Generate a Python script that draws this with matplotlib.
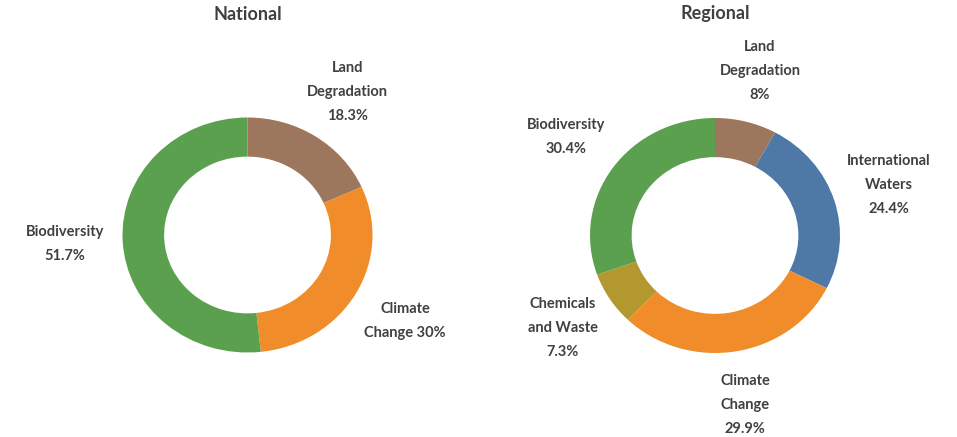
import matplotlib
matplotlib.use("Agg")
import matplotlib.pyplot as plt

# Datos
nat_labels = ["Land\nDegradation", "Climate\nChange", "Biodiversity"]
nat_values = [18.3, 30.0, 51.7]
nat_colors = ["#9C775E", "#F08C2A", "#5BA04F"]

reg_labels = ["Land\nDegradation", "International\nWaters", "Climate\nChange",
              "Chemicals\nand Waste", "Biodiversity"]
reg_values = [8.0, 24.4, 29.9, 7.3, 30.4]
reg_colors = ["#9C775E", "#4E79A7", "#F08C2A", "#B3972F", "#5BA04F"]

# textos de las etiquetas tal como aparecen
nat_text = ["Land\nDegradation\n18.3%", "Climate\nChange 30%", "Biodiversity\n51.7%"]
reg_text = ["Land\nDegradation\n8%", "International\nWaters\n24.4%",
            "Climate\nChange\n29.9%", "Chemicals\nand Waste\n7.3%",
            "Biodiversity\n30.4%"]

# posiciones de las etiquetas (unidades del radio)
nat_pos = [(0.80, 1.22), (1.26, -0.73), (-1.46, -0.08)]
reg_pos = [(0.36, 1.40), (1.39, 0.43), (0.24, -1.44), (-1.22, -0.79), (-1.19, 0.84)]

plt.rcParams["font.family"] = ["Lato", "DejaVu Sans"]
txt_color = "#404040"

W, H = 957, 437
fig = plt.figure(figsize=(W / 100, H / 100), dpi=100)

rx, ry = 125.0, 117.5  # radio en pixeles (horizontal, vertical)
lim = 2.0


def donut(cx, cy, values, colors, texts, pos, title):
    w = 2 * lim * rx / W
    h = 2 * lim * ry / H
    ax = fig.add_axes([cx / W - w / 2, (H - cy) / H - h / 2, w, h])
    ax.pie(values, colors=colors, startangle=90, counterclock=False,
           radius=1.0, wedgeprops=dict(width=0.333, edgecolor="none"))
    ax.set_aspect("auto")
    ax.set_xlim(-lim, lim)
    ax.set_ylim(-lim, lim)
    ax.axis("off")
    for t, (x, y) in zip(texts, pos):
        ax.text(x, y, t, ha="center", va="center", fontsize=10.5,
                color=txt_color, fontweight="bold", linespacing=1.9)
    fig.text(cx / W, 1 - 14 / H, title, ha="center", va="center",
             fontsize=13, fontweight="bold", color=txt_color)


donut(247.5, 235, nat_values, nat_colors, nat_text, nat_pos, "National")
donut(715, 235.5, reg_values, reg_colors, reg_text, reg_pos, "Regional")

fig.savefig("out.png", dpi=100, facecolor="white")
